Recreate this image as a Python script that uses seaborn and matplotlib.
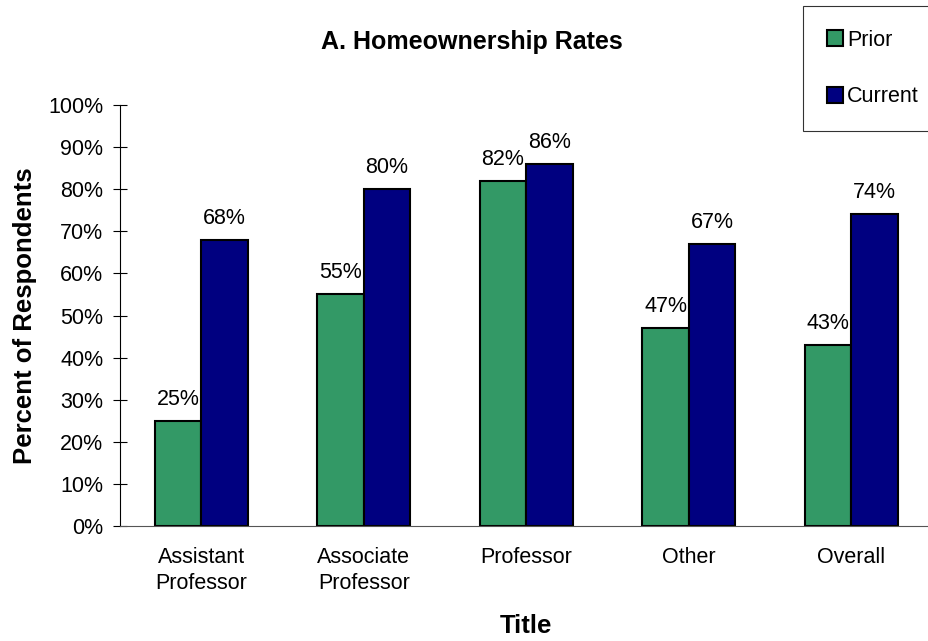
import pandas as pd
import numpy as np
import matplotlib
matplotlib.use("Agg")
import matplotlib.pyplot as plt
import seaborn as sns

# Chart values
categories = ["Assistant\nProfessor", "Associate\nProfessor", "Professor", "Other", "Overall"]
prior = [25, 55, 82, 47, 43]
current = [68, 80, 86, 67, 74]
series_names = ["Prior", "Current"]
colors = ["#339966", "#000080"]

df = pd.DataFrame({
    "Title": categories * 2,
    "value": prior + current,
    "series": [series_names[0]] * len(prior) + [series_names[1]] * len(current),
})

sns.set_style("white")
plt.rcParams["font.family"] = ["Liberation Sans", "DejaVu Sans"]
plt.rcParams["text.color"] = "black"
plt.rcParams["xtick.color"] = "black"
plt.rcParams["ytick.color"] = "black"
plt.rcParams["axes.labelcolor"] = "black"

fig = plt.figure(figsize=(9.29, 6.41), dpi=100)
ax = fig.add_axes([120 / 929, 1 - 526 / 641, (932.5 - 120) / 929, (526 - 105) / 641])

sns.barplot(data=df, x="Title", y="value", hue="series", palette=colors,
            saturation=1, width=0.572, edgecolor="black", linewidth=1.5,
            ax=ax, legend=True)

# value labels above each bar
for cont in ax.containers:
    ax.bar_label(cont, labels=[f"{v:.0f}%" for v in cont.datavalues],
                 padding=8, fontsize=15.5)

ax.set_ylim(0, 100)
ax.set_xlim(-0.5, 4.5)
ax.set_yticks(np.arange(0, 101, 10))
ax.set_yticklabels([f"{t}%" for t in range(0, 101, 10)], fontsize=15.5)
ax.set_xticks(range(len(categories)))
ax.set_xticklabels(categories, fontsize=15.5, linespacing=1.3)
ax.set_xticks(np.arange(-0.5, 5, 1), minor=True)
ax.tick_params(axis="x", which="major", length=0, pad=15)
ax.tick_params(axis="x", which="minor", direction="inout", length=10, width=0.8, color="black")
ax.tick_params(axis="y", direction="inout", length=10, width=0.8, color="black", left=True, pad=7)

for s in ["top", "right"]:
    ax.spines[s].set_visible(False)
ax.spines["left"].set_color("black")
ax.spines["bottom"].set_color("#555555")
ax.spines["left"].set_linewidth(0.8)
ax.spines["bottom"].set_linewidth(0.8)

ax.set_xlabel("Title", fontsize=18.5, fontweight="bold", labelpad=15)
ax.set_ylabel("Percent of Respondents", fontsize=18.5, fontweight="bold", labelpad=8)
fig.text(472 / 929, 1 - 42 / 641, "A. Homeownership Rates", fontsize=18,
         fontweight="bold", ha="center", va="center")

handles, labels = ax.get_legend_handles_labels()
ax.legend_.remove()
leg = fig.legend(handles, labels, loc="upper left", bbox_to_anchor=(803 / 929, 1 - 6 / 641),
                 fontsize=15.5, frameon=True, fancybox=False, edgecolor="black",
                 handlelength=0.75, handleheight=0.75, handletextpad=0.2,
                 labelspacing=1.65, borderpad=1.1, borderaxespad=0)
leg.get_frame().set_linewidth(0.8)

fig.savefig("out.png", dpi=100)
